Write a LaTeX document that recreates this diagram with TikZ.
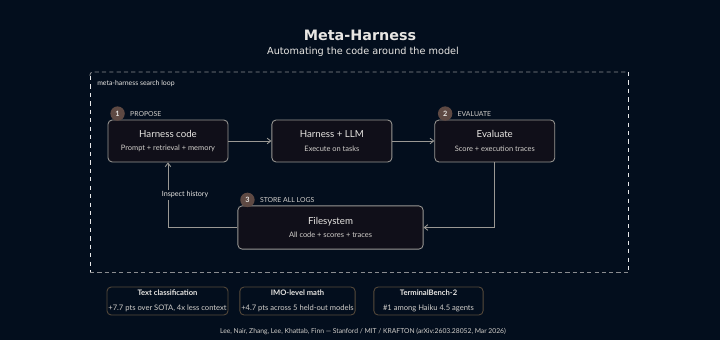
\documentclass[tikz,border=0pt]{standalone}
\usepackage{fontspec}
\setmainfont{Lato}
\newfontfamily\headfont{DejaVu Sans}
\usetikzlibrary{positioning,arrows.meta}
\definecolor{bg}{HTML}{030E1D}
\definecolor{boxfill}{HTML}{100F19}
\definecolor{edge}{HTML}{9A9894}
\definecolor{txt}{HTML}{E8E6E3}
\definecolor{subtxt}{HTML}{D2CFCB}
\definecolor{badgefill}{HTML}{5E4943}
\definecolor{cardedge}{HTML}{574A3B}
\definecolor{frame}{HTML}{8A8C90}
\newcommand{\boxlbl}[2]{{\fontsize{6.9}{8}\selectfont #1}\\[-2.6pt]{\fontsize{5.3}{6}\selectfont\color{subtxt}#2}}
\newcommand{\cardlbl}[2]{{\fontsize{5.4}{6}\selectfont\bfseries #1}\\[-1.6pt]{\fontsize{5.4}{6}\selectfont\color{subtxt}#2}}

\begin{document}
\begin{tikzpicture}[
  x=0.025cm, y=-0.025cm,
  every node/.style={text=txt},
  stage/.style={draw=edge, fill=boxfill, line width=0.6pt, rounded corners=3pt, align=center, minimum width=3cm, minimum height=1.05cm, inner sep=2pt},
  card/.style={draw=cardedge, line width=0.6pt, rounded corners=3pt, align=center, minimum width=2.73cm, minimum height=0.7cm, inner sep=1pt},
  badge/.style={circle, fill=badgefill, minimum size=0.36cm, inner sep=0pt, font=\fontsize{5.2}{6}\selectfont\bfseries},
  tag/.style={font=\fontsize{4.9}{6}\selectfont, text=subtxt, inner sep=0pt},
  arrow/.style={-{Straight Barb[length=2.6pt,width=4pt]}, draw=edge, line width=0.6pt}
]
\fill[bg] (0,0) rectangle (720,340);
\useasboundingbox (0,0) rectangle (720,340);

% title
\node (title) at (360,35) {\headfont\fontsize{10.2}{12}\selectfont\bfseries Meta-Harness};
\node (sub) at (363,52) {\headfont\fontsize{6.9}{8}\selectfont Automating the code around the model};

% search loop frame
\draw[frame!18, dashed, line width=0.5pt] (90,76) -- (90,272);
\draw[frame!18, dashed, line width=0.5pt] (628,72) -- (628,272);
\draw[frame, line width=0.6pt, dash pattern=on 3pt off 2.2pt] (90,76) [rounded corners=2pt] -- (90,72) -- (628,72);
\draw[frame, line width=0.6pt, dash pattern=on 3pt off 2.2pt] (90,272) -- (628,272);
\node[tag, text=txt, anchor=west] (looplbl) at (97,84) {meta-harness search loop};

% stages
\node[stage] (code) at (168,141) {\boxlbl{Harness code}{Prompt + retrieval + memory}};
\node[stage, right=1.075cm of code] (llm) {\boxlbl{Harness + LLM}{Execute on tasks}};
\node[stage, right=1.05cm of llm] (eval) {\boxlbl{Evaluate}{Score + execution traces}};
\node[stage, minimum width=4.63cm, minimum height=1.08cm] (fs) at (330.5,227.5) {\boxlbl{Filesystem}{All code + scores + traces}};

% badges
\node[badge] (b1) at ([xshift=0.25cm,yshift=0.15cm]code.north west) {1};
\node[tag, right=0.12cm of b1] (t1) {PROPOSE};
\node[badge] (b2) at ([xshift=0.27cm,yshift=0.15cm]eval.north west) {2};
\node[tag, right=0.12cm of b2] (t2) {EVALUATE};
\node[badge] (b3) at ([xshift=0.25cm,yshift=0.14cm]fs.north west) {3};
\node[tag, right=0.12cm of b3] (t3) {STORE ALL LOGS};

% connectors
\draw[arrow] (code) -- (llm);
\draw[arrow] (llm) -- (eval);
\draw[arrow] (eval.south) |- (fs.east);
\draw[arrow] (fs.west) -| node[pos=0.75, anchor=west, xshift=-0.2cm, fill=bg, inner sep=1pt, font=\fontsize{5.1}{6}\selectfont] (hist) {Inspect history} (code.south);

% results
\node[card] (r1) at (167.5,301) {\cardlbl{Text classification}{+7.7 pts over SOTA, 4x less context}};
\node[card] (r2) at (297.5,301) {\cardlbl{IMO-level math}{+4.7 pts across 5 held-out models}};
\node[card] (r3) at (428.5,301) {\cardlbl{TerminalBench-2}{\#1 among Haiku 4.5 agents}};

\node[font=\fontsize{4.8}{6}\selectfont, text=subtxt] (cite) at (363,331) {Lee, Nair, Zhang, Lee, Khattab, Finn — Stanford / MIT / KRAFTON (arXiv:2603.28052, Mar 2026)};
\end{tikzpicture}
\end{document}
